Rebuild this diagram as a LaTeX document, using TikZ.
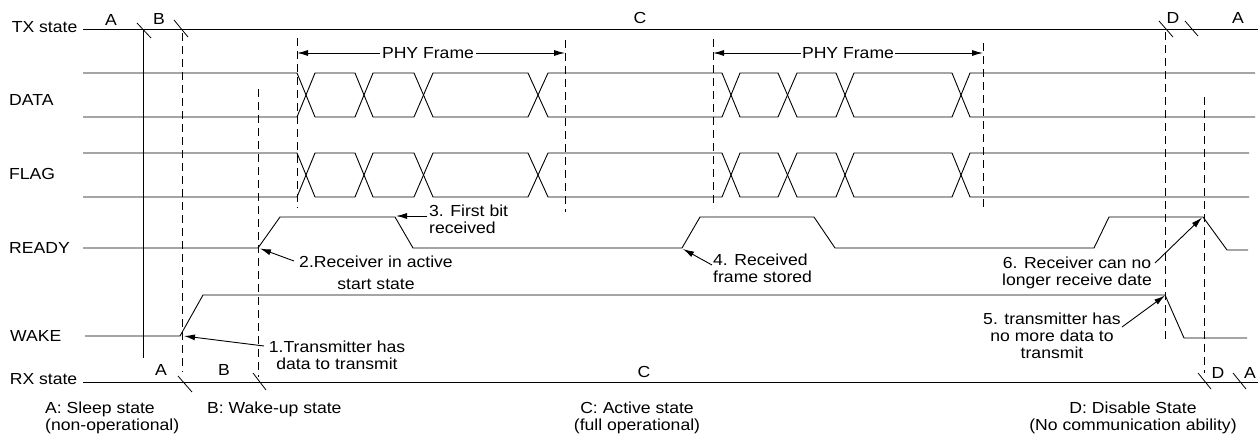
\documentclass[tikz,border=0pt]{standalone}
\usepackage{fontspec}
\setmainfont[FakeStretch=1.1]{Liberation Sans}
\usetikzlibrary{arrows.meta}
\begin{document}
\begin{tikzpicture}[x=1pt,y=-1pt,
  lbl/.style={font=\fontsize{16}{17}\selectfont, inner sep=0pt},
  wave/.style={line width=0.9pt, line join=miter},
  dashline/.style={line width=0.9pt, dash pattern=on 8pt off 5pt},
  slash/.style={line width=0.8pt},
  arr/.style={line width=0.9pt, -{Latex[length=11pt,width=6pt]}},
]
\useasboundingbox (0,0) rectangle (1260,434);

% ---- row labels
\node[lbl, anchor=east] (txl) at (77.5,27) {TX state};
\node[lbl, anchor=west] (datal) at (9,100) {DATA};
\node[lbl, anchor=west] (flagl) at (9,174) {FLAG};
\node[lbl, anchor=west] (readyl) at (9,248) {READY};
\node[lbl, anchor=west] (wakel) at (10,336) {WAKE};
\node[lbl, anchor=east] (rxl) at (77.5,379) {RX state};

% ---- state lines
\draw[wave] (83,29) -- (1258,29);
\draw[wave] (83,382) -- (1258,382);

% ---- TX state letters
\node[lbl] (ta1) at (111,20) {A};
\node[lbl] (tb) at (159,19) {B};
\node[lbl] (tc) at (640,18) {C};
\node[lbl] (td) at (1173,18) {D};
\node[lbl] (ta2) at (1238,18) {A};
% ---- RX state letters
\node[lbl] (ra1) at (161,370) {A};
\node[lbl] (rb) at (224,370) {B};
\node[lbl] (rc) at (644,372) {C};
\node[lbl] (rd) at (1218,373) {D};
\node[lbl] (ra2) at (1250,373) {A};

% ---- slashes
\draw[slash] (137,23) -- (151,38);
\draw[slash] (174,20) -- (188,37);
\draw[slash] (1159,21) -- (1173,37);
\draw[slash] (1185,21) -- (1198,36);
\draw[slash] (178,376) -- (192,392);
\draw[slash] (253,373) -- (266,390);
\draw[slash] (1198,373) -- (1211,389);
\draw[slash] (1233,373) -- (1246,389);

% ---- DATA and FLAG buses
\foreach \t/\b/\e in {73/117/1255, 153/197/1249}{
  \draw[wave] (83,\t) -- (297,\t) -- (315,\b) -- (355,\b) -- (373,\t) -- (414,\t) -- (433,\b) -- (528,\b) -- (548,\t)
     -- (722,\t) -- (740,\b) -- (778,\b) -- (797,\t) -- (836,\t) -- (854,\b) -- (952,\b) -- (970,\t) -- (\e,\t);
  \draw[wave] (83,\b) -- (297,\b) -- (315,\t) -- (355,\t) -- (373,\b) -- (414,\b) -- (433,\t) -- (528,\t) -- (548,\b)
     -- (722,\b) -- (740,\t) -- (778,\t) -- (797,\b) -- (836,\b) -- (854,\t) -- (952,\t) -- (970,\b) -- (\e,\b);
}

% ---- READY
\draw[wave] (83,248) -- (258,248) -- (280,217) -- (395,217) -- (413,248) -- (682,248) -- (700,217) -- (814,217)
   -- (835,248) -- (1094,248) -- (1109,217) -- (1203,217) -- (1227,250) -- (1248,250);
% ---- WAKE
\draw[wave] (85,336) -- (180,336) -- (203,295) -- (1165,295) -- (1184,338) -- (1247,338);

% ---- solid vertical
\draw[wave] (143,29) -- (143,358);

% ---- dashed markers
\draw[dashline] (182,33) -- (182,372);
\draw[dashline] (258,89) -- (258,377);
\draw[dashline] (297,38) -- (297,208);
\draw[dashline] (565,40) -- (565,212);
\draw[dashline] (713,39) -- (713,208);
\draw[dashline] (983,43) -- (983,208);
\draw[dashline] (1165,32) -- (1165,340);
\draw[dashline] (1204,97) -- (1204,373);

% ---- PHY frames
\coordinate (p1l) at (297,53);
\coordinate (p1r) at (565,53);
\coordinate (p2l) at (713,53);
\coordinate (p2r) at (983,53);
\node[lbl, fill=white, inner xsep=2pt] (phy1) at (428,53) {PHY Frame};
\node[lbl, fill=white, inner xsep=1pt] (phy2) at (848,53) {PHY Frame};
\draw[arr] (phy1.west) -- (p1l);
\draw[arr] (phy1.east) -- (p1r);
\draw[arr] (phy2.west) -- (p2l);
\draw[arr] (phy2.east) -- (p2r);

% ---- annotations
\node[lbl, anchor=north, align=center] (n1) at (337,341) {1.Transmitter has\\data to transmit};
\coordinate (n1s) at (264,346);
\coordinate (n1t) at (184,336);
\draw[arr] (n1s) -- (n1t);

\node[lbl, anchor=north, align=center] (n2) at (376,255.5) {2.Receiver in active\\[5pt]start state};
\coordinate (n2s) at (294,261);
\coordinate (n2t) at (260,248.5);
\draw[arr] (n2s) -- (n2t);

\node[lbl, anchor=north west, align=left] (n3) at (429,204.5) {3. First bit\\received};
\coordinate (n3s) at (427,216);
\coordinate (n3t) at (396,216);
\draw[arr] (n3s) -- (n3t);

\node[lbl, anchor=north west, align=left] (n4) at (713,253.5) {4. Received\\frame stored};
\coordinate (n4s) at (712,265);
\coordinate (n4t) at (683,249);
\draw[arr] (n4s) -- (n4t);

\node[lbl, anchor=north, align=center] (n5) at (1052,312.5) {5. transmitter has\\no more data to\\transmit};
\coordinate (n5s) at (1122,327);
\coordinate (n5t) at (1165,295.5);
\draw[arr] (n5s) -- (n5t);

\node[lbl, anchor=north, align=center] (n6) at (1077,257) {6. Receiver can no\\longer receive date};
\coordinate (n6s) at (1155,263);
\coordinate (n6t) at (1202,217.5);
\draw[arr] (n6s) -- (n6t);

% ---- legend
\node[lbl, anchor=north west, align=left] (lega) at (45,401.5) {A: Sleep state\\(non-operational)};
\node[lbl, anchor=north west] (legb) at (207,401.5) {B: Wake-up state};
\node[lbl, anchor=north, align=center] (legc) at (637,401.5) {C: Active state\\(full operational)};
\node[lbl, anchor=north, align=center] (legd) at (1133,401.5) {D: Disable State\\(No communication ability)};
\end{tikzpicture}
\end{document}
